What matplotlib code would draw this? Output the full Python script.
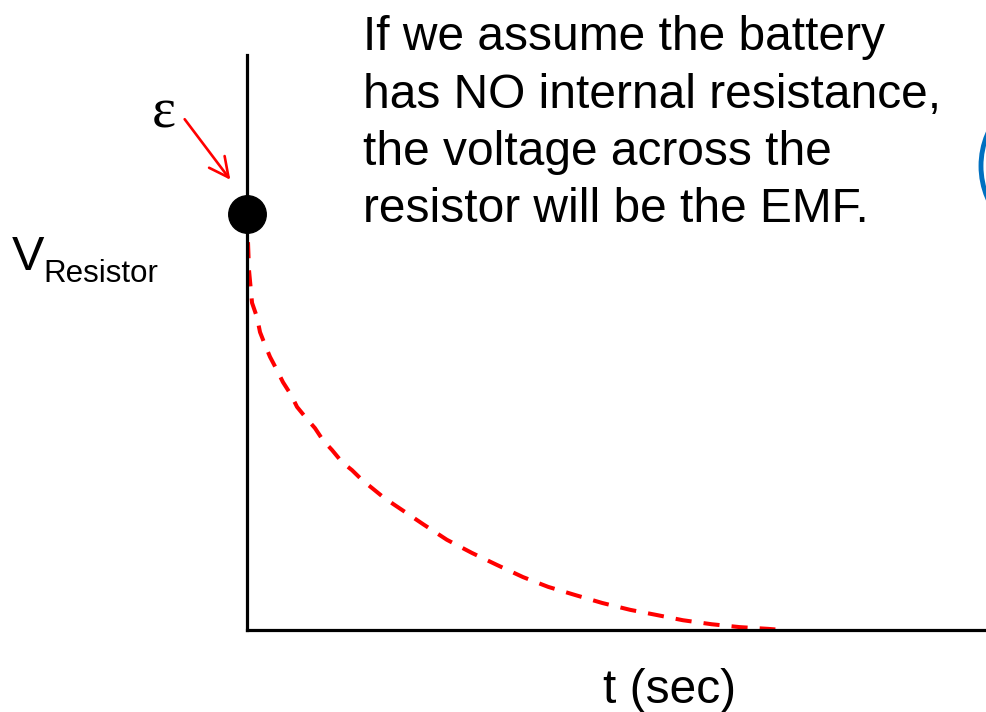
import matplotlib.pyplot as plt
from matplotlib.patches import Ellipse, FancyArrowPatch

plt.rcParams['font.family'] = ['Liberation Sans', 'DejaVu Sans']

W, H = 987, 712

# curve (t and V both normalised to the axes box)
t_vals = [0.0, 0.0027, 0.0068, 0.0135, 0.0176, 0.0243, 0.0311, 0.0405, 0.0486,
          0.0595, 0.0676, 0.0797, 0.0919, 0.1027, 0.1149, 0.1284, 0.1419, 0.1554,
          0.1689, 0.1851, 0.200, 0.2162, 0.238, 0.270, 0.304, 0.338, 0.373, 0.407,
          0.443, 0.480, 0.518, 0.554, 0.589, 0.628, 0.666, 0.704, 0.714]
v_vals = [0.7235, 0.626, 0.569, 0.544, 0.518, 0.496, 0.475, 0.452, 0.431,
          0.409, 0.388, 0.369, 0.351, 0.330, 0.313, 0.292, 0.278, 0.261,
          0.247, 0.230, 0.217, 0.203, 0.184, 0.157, 0.134, 0.113, 0.092, 0.075,
          0.061, 0.047, 0.035, 0.026, 0.017, 0.010, 0.005, 0.002, 0.001]
emf = 0.7235

note_lines = [
    "If we assume the battery",
    "has NO internal resistance,",
    "the voltage across the",
    "resistor will be the EMF.",
]


def fx(x):
    return x / W


def fy(y):
    return 1 - y / H


fig = plt.figure(figsize=(W / 100, H / 100), dpi=100)
ax = fig.add_axes([fx(247), fy(630), 740 / W, 575 / H])
ax.set_xlim(0, 1)
ax.set_ylim(0, 1)
for side in ["top", "right"]:
    ax.spines[side].set_visible(False)
for side in ["left", "bottom"]:
    ax.spines[side].set_linewidth(2.3)
ax.set_xticks([])
ax.set_yticks([])

# decaying voltage
ax.plot(t_vals, v_vals, color="red", lw=2.9, dashes=(4, 3), solid_capstyle="butt")
ax.plot([0], [emf], "o", color="black", markersize=27, clip_on=False, zorder=5)

# labels
fig.text(fx(12), fy(270), "V", fontsize=35, va="baseline")
fig.text(fx(43), fy(282), "Resistor", fontsize=22.5, va="baseline")
fig.text(fx(603), fy(703), "t (sec)", fontsize=34.5, va="baseline")
fig.text(fx(152), fy(128), "ε", fontsize=41, va="baseline",
         family=["Liberation Serif", "DejaVu Serif"])

arrow = FancyArrowPatch((fx(183), fy(117)), (fx(232), fy(182)),
                        transform=fig.transFigure,
                        arrowstyle="->,head_length=0.7,head_width=0.35",
                        mutation_scale=20, color="red", lw=1.9)
fig.add_artist(arrow)

baselines = [50, 108, 165, 222]
for line, yb in zip(note_lines, baselines):
    fig.text(fx(363), fy(yb), line, fontsize=34.5, va="baseline")

# blue circle peeking in at the right edge
circ = Ellipse((fx(1063), fy(166)), 2 * 82 / W, 2 * 82 / H,
               transform=fig.transFigure, fill=False, ec="#0070C0", lw=3.5)
fig.add_artist(circ)

fig.savefig("out.png", dpi=100)
